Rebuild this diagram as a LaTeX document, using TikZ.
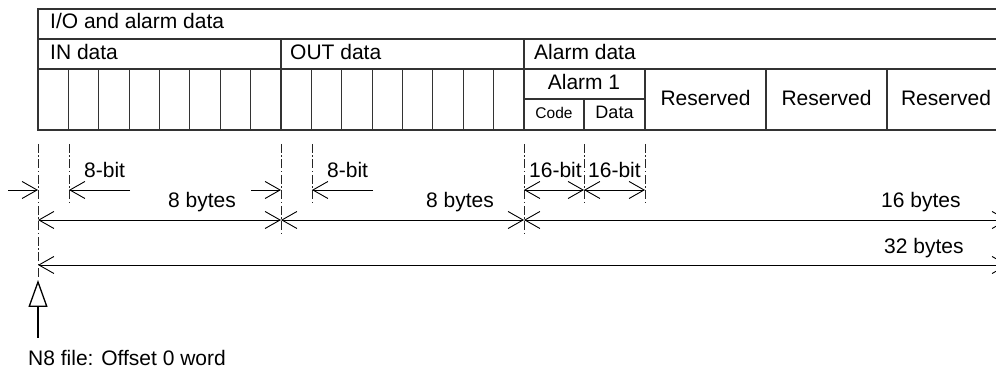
\documentclass[tikz,border=0pt]{standalone}
\usepackage{fontspec}
\setmainfont{Liberation Sans}
\usetikzlibrary{arrows.meta}
\begin{document}
\begin{tikzpicture}[x=1pt,y=-1pt,
  grid/.style={draw=black!80, line width=1.2pt},
  lbl/.style={font=\fontsize{21}{25}\selectfont, inner sep=0pt, anchor=base west},
  lblc/.style={font=\fontsize{21}{25}\selectfont, inner sep=0pt, anchor=base},
  ext/.style={draw=black!85, line width=0.8pt, dash pattern=on 9pt off 2.5pt on 1.5pt off 2.5pt},
  dim/.style={line width=0.9pt, >={Straight Barb[length=15pt,width=17pt,line width=0.9pt]}},
]
\useasboundingbox (0,0) rectangle (996,371);

% ---- record layout table (right side runs past the edge) ----
\draw[grid] (996,9) -- (38,9) -- (38,130) -- (996,130);
\draw[grid] (38,39) -- (996,39);
\draw[grid] (38,69) -- (996,69);
\foreach \i in {1,...,15}{
  \draw[grid] ({38+\i*30.375},69) -- ({38+\i*30.375},130);
}
\draw[grid] (281,39) -- (281,69);
\draw[grid] (524,39) -- (524,130);
\draw[grid] (524,99) -- (645,99);
\draw[grid] (584,99) -- (584,130);
\foreach \x in {645,766,887}{
  \draw[grid] (\x,69) -- (\x,130);
}

\node[lbl] (title) at (50,28.5) {I/O and alarm data};
\node[lbl] (indata) at (50,59.5) {IN data};
\node[lbl] (outdata) at (290,59.5) {OUT data};
\node[lbl] (alarmdata) at (534,59.5) {Alarm data};
\node[lblc] (alarm1) at (584,89.5) {Alarm 1};
\node[lblc, font=\fontsize{15.5}{18}\selectfont] (code) at (554,119) {Code};
\node[lblc, font=\fontsize{18}{21}\selectfont] (data) at (614.5,119) {Data};
\node[lblc] (res1) at (705.5,106) {Reserved};
\node[lblc] (res2) at (826.5,106) {Reserved};
\node[lblc] (res3) at (946,106) {Reserved};

% ---- extension lines ----
\foreach \n/\x/\b in {a/38/278, b/69/205, c/281/235, d/312/205, e/524/235, f/584/205, g/645/205}{
  \coordinate (\n top) at (\x,144);
  \coordinate (\n bot) at (\x,\b);
  \draw[ext] (\n top) -- (\n bot);
}

% ---- dimension lines ----
\coordinate (a1) at (38,190);  \coordinate (b1) at (69,190);
\coordinate (c1) at (281,190); \coordinate (d1) at (312,190);
\coordinate (e1) at (524,190); \coordinate (f1) at (584,190);
\coordinate (g1) at (645,190);
\coordinate (l1) at (8,190);   \coordinate (r1) at (130,190);
\coordinate (l2) at (251,190); \coordinate (r2) at (373,190);

\draw[dim,->] (l1) -- (a1);
\draw[dim,->] (r1) -- (b1);
\draw[dim,->] (l2) -- (c1);
\draw[dim,->] (r2) -- (d1);
\draw[dim,<->] (e1) -- (f1);
\draw[dim,<->] (f1) -- (g1);

\coordinate (a2) at (38,220);  \coordinate (c2) at (281,220);
\coordinate (e2) at (524,220); \coordinate (z2) at (1008,220);
\draw[dim,<->] (a2) -- (c2);
\draw[dim,<->] (c2) -- (e2);
\draw[dim,<->] (e2) -- (z2);

\coordinate (a3) at (38,265);  \coordinate (z3) at (1008,265);
\draw[dim,<->] (a3) -- (z3);

\node[lbl] (bit1) at (84,178) {8-bit};
\node[lbl] (bit2) at (327,178) {8-bit};
\node[lbl] (bit3) at (529,178) {16-bit};
\node[lbl] (bit4) at (588,178) {16-bit};
\node[lbl] (byt1) at (168,208) {8 bytes};
\node[lbl] (byt2) at (426,208) {8 bytes};
\node[lbl] (byt3) at (881,208) {16 bytes};
\node[lbl] (byt4) at (884,254) {32 bytes};

% ---- offset pointer ----
\coordinate (ptrtip) at (38,280);
\coordinate (ptrtail) at (38,338);
\draw[line width=1.3pt, -{Triangle[open,length=27pt,width=19pt,line width=1.3pt]}] (ptrtail) -- (ptrtip);
\node[lbl] (offset) at (28,365) {N8 file: Offset 0 word};
\end{tikzpicture}
\end{document}
